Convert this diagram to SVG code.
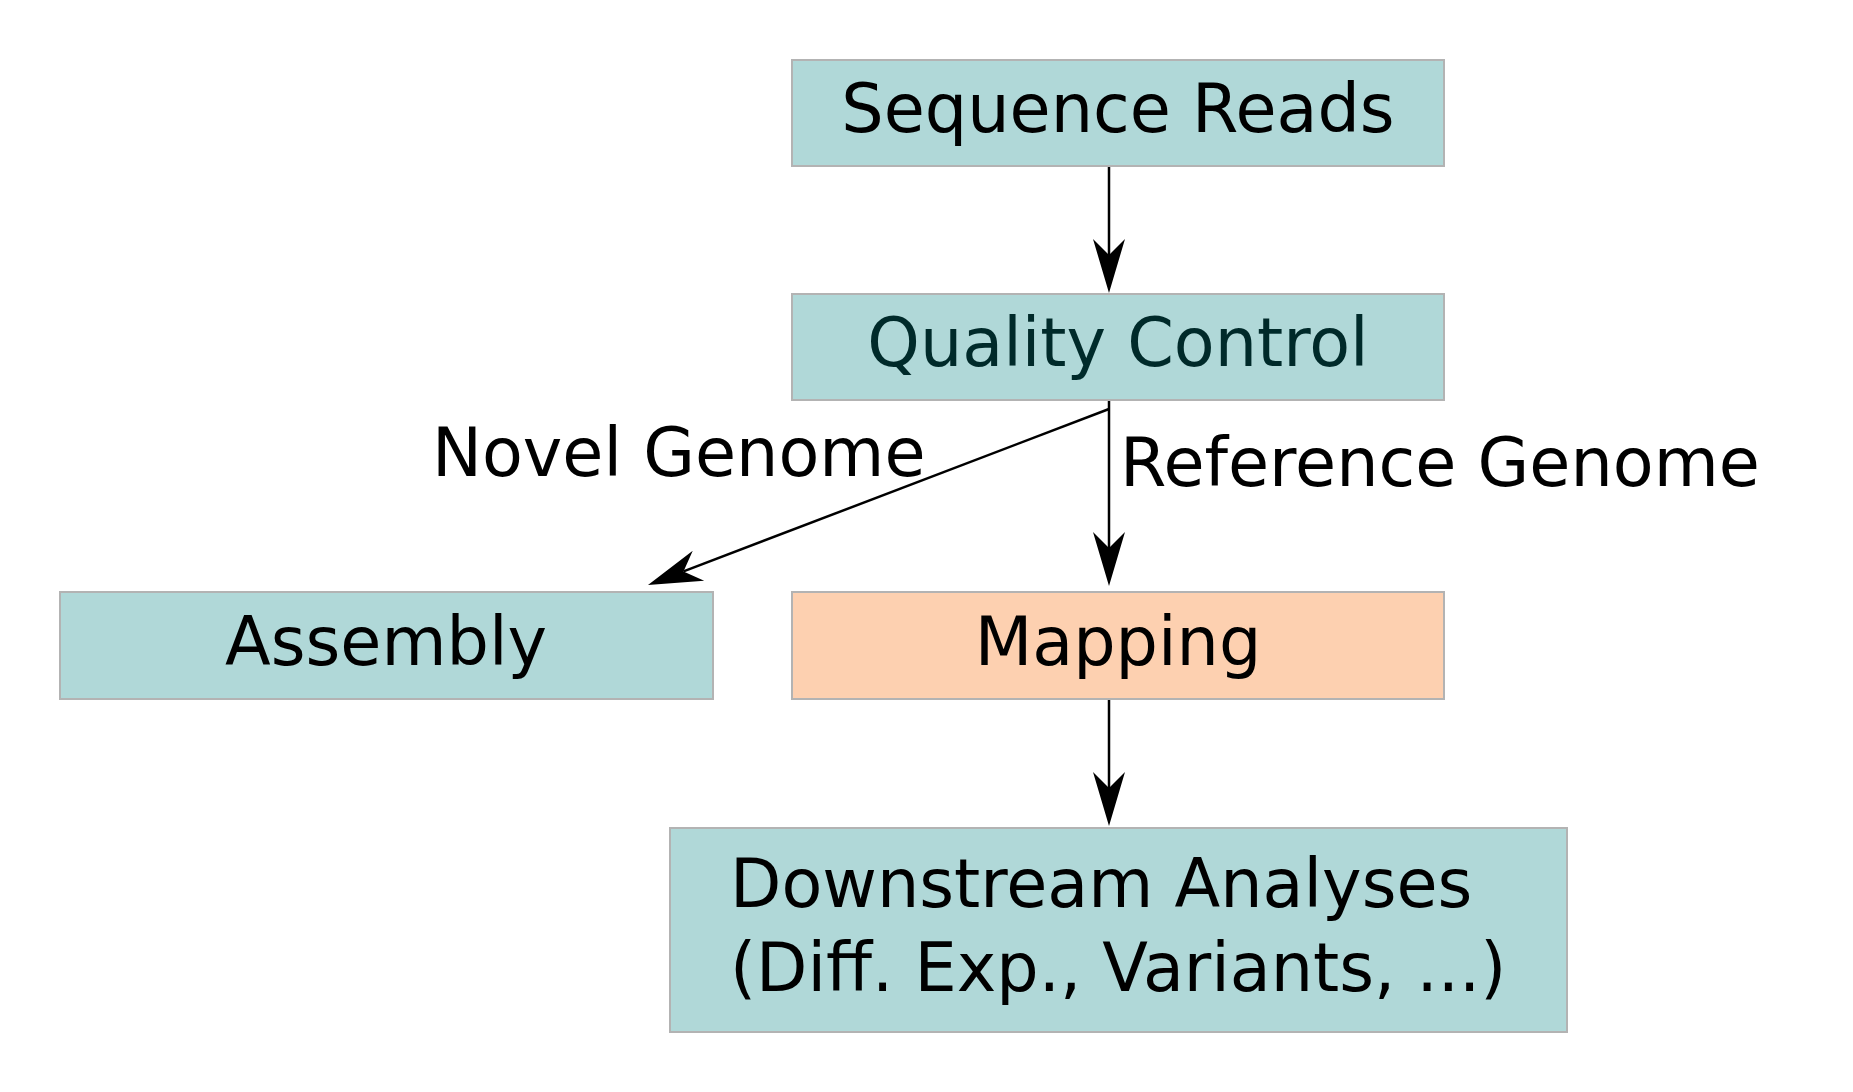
<svg xmlns="http://www.w3.org/2000/svg" width="1853" height="1092" viewBox="0 0 1853 1092">
<style>
.box{stroke:#b3b3b3;stroke-width:2}
.teal{fill:#b0d8d8}
.peach{fill:#fdd0b0}
.t{font-family:"DejaVu Sans","Liberation Sans",sans-serif;font-size:66.8px;fill:#000}
.c{text-anchor:middle}
.edge{stroke:#000;stroke-width:2.5;fill:none}
</style>
<defs>
<marker id="ah" markerUnits="userSpaceOnUse" viewBox="-55 -17 57 34" markerWidth="57" markerHeight="34" refX="-38" refY="0" orient="auto">
<path d="M0,0 L-54,-16 L-38,0 L-54,16 Z" fill="#000"/>
</marker>
</defs>
<rect width="1853" height="1092" fill="#fff"/>
<g id="connectors">
<line class="edge" x1="1109" y1="166" x2="1109" y2="255" marker-end="url(#ah)"/>
<line class="edge" x1="1109" y1="400" x2="1109" y2="548" marker-end="url(#ah)"/>
<line class="edge" x1="1109" y1="409" x2="683.5" y2="571.4" marker-end="url(#ah)"/>
<line class="edge" x1="1109" y1="699" x2="1109" y2="788" marker-end="url(#ah)"/>
<text class="t" x="432" y="476">Novel Genome</text>
<text class="t" x="1120" y="486">Reference Genome</text>
</g>
<g id="seq">
<rect class="box teal" x="792" y="60" width="652" height="106"/>
<text class="t c" x="1118" y="132">Sequence Reads</text>
</g>
<g id="qc">
<rect class="box teal" x="792" y="294" width="652" height="106"/>
<text class="t c" x="1118" y="366" style="fill:#002a2a">Quality Control</text>
</g>
<g id="assembly">
<rect class="box teal" x="60" y="592" width="653" height="107"/>
<text class="t c" x="386" y="665">Assembly</text>
</g>
<g id="mapping">
<rect class="box peach" x="792" y="592" width="652" height="107"/>
<text class="t c" x="1118" y="665">Mapping</text>
</g>
<g id="downstream">
<rect class="box teal" x="670" y="828" width="897" height="204"/>
<text class="t" x="730" y="907">Downstream Analyses</text>
<text class="t" x="730" y="991">(Diff. Exp., Variants, ...)</text>
</g>
</svg>
